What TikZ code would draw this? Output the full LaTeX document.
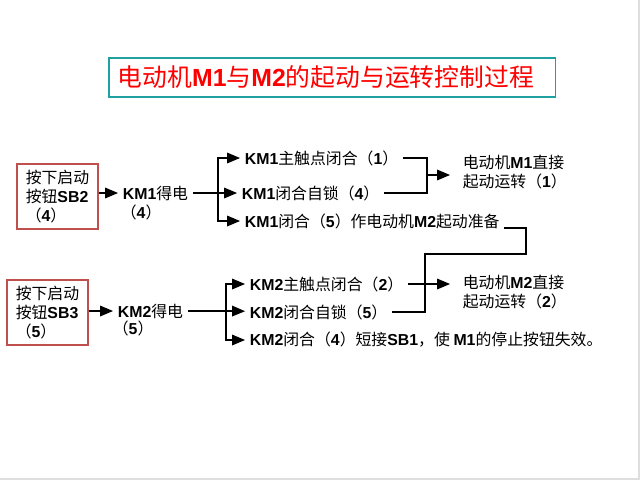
\documentclass[tikz,border=0pt]{standalone}
\usepackage{fontspec}
\setmainfont{Noto Sans CJK SC}
\newfontfamily\latinfont{Liberation Sans}
\usetikzlibrary{arrows}
\usetikzlibrary{positioning}
\definecolor{boxred}{RGB}{192,80,77}
\definecolor{titleteal}{RGB}{32,160,160}
\newcommand\B[1]{{\latinfont\bfseries #1}}
\newcommand\bodyfont{\fontsize{11.9}{14.5}\selectfont}
\newcommand\titlefont{\fontsize{18.6}{22}\selectfont}

\begin{document}
\begin{tikzpicture}[x=0.75pt,y=-0.75pt,>=triangle 45,line width=1.25pt,
                    txt node/.style={anchor=west,inner xsep=3pt,inner ysep=0pt,align=left,font=\bodyfont},
                    key box/.style={draw=boxred,line width=0.9pt,align=left,minimum width=60.75pt,
                                    minimum height=48.75pt,inner xsep=5pt,font=\bodyfont}]

  \useasboundingbox (0,0) rectangle (640,480);
  \draw[line width=1.5pt,black!13] (0,479) -- (639,479) -- (639,0);

  % title
  \node[draw=titleteal,line width=1.2pt,anchor=west,inner xsep=6.75pt,text width=321.5pt,
        minimum height=29.25pt,align=left,text=red,font=\titlefont] (title) at (108,77.5)
        {电动机\B{M1}与\B{M2}的起动与运转控制过程};

  % M1
  \node[key box] (sb2) at (57.5,196.5) {按下启动\\按钮\B{SB2}\\（\B{4}）};
  \node[txt node] (km1) at (118,193) {\B{KM1}得电};
  \node[txt node] (km1n) at (116,212) {（\B{4}）};
  \coordinate (fork1) at (218,193);
  \node[txt node] (k1a) at (240,158) {\B{KM1}主触点闭合（\B{1}）};
  \node[txt node] (k1b) at (237,193) {\B{KM1}闭合自锁（\B{4}）};
  \node[txt node] (k1c) at (240,221) {\B{KM1}闭合（\B{5}）作电动机\B{M2}起动准备};
  \coordinate (join1) at (427,175);
  \node[txt node,inner xsep=9pt] (m1) at (450,172) {电动机\B{M1}直接\\起动运转（\B{1}）};

  \draw[->] (sb2.east |- km1) -- (km1);
  \draw (km1) -- (fork1);
  \draw[->] (fork1) |- (k1a);
  \draw[->] (fork1) -- (k1b);
  \draw[->] (fork1) |- (k1c);
  \draw (k1a) -| (join1) |- (k1b);
  \draw[->] (join1) -- (join1 -| m1.west);

  % M2
  \node[key box] (sb3) at (47.5,312.5) {按下启动\\按钮\B{SB3}\\（\B{5}）};
  \node[txt node] (km2) at (113,311) {\B{KM2}得电};
  \node[txt node] (km2n) at (108,328) {（\B{5}）};
  \coordinate (fork2) at (226,311);
  \node[txt node] (k2a) at (245,284) {\B{KM2}主触点闭合（\B{2}）};
  \node[txt node] (k2b) at (245,312) {\B{KM2}闭合自锁（\B{5}）};
  \node[txt node] (k2c) at (245,340) {\B{KM2}闭合（\B{4}）短接\B{SB1}，使 \B{M1}的停止按钮失效。};
  \coordinate (turn1) at (526,254);
  \coordinate (join2) at (425,254);
  \node[txt node,inner xsep=9pt] (m2) at (450,292) {电动机\B{M2}直接\\起动运转（\B{2}）};

  \draw[->] (sb3.east |- km2) -- (km2);
  \draw (km2) -- (fork2);
  \draw[->] (fork2) |- (k2a);
  \draw[->] (fork2) -- (k2b);
  \draw[->] (fork2) |- (k2c);
  \draw ([yshift=-5pt]k1c.east) -| (turn1) -- (join2) |- (k2b);
  \draw[->] (k2a) -- (k2a -| m2.west);
\end{tikzpicture}
\end{document}
